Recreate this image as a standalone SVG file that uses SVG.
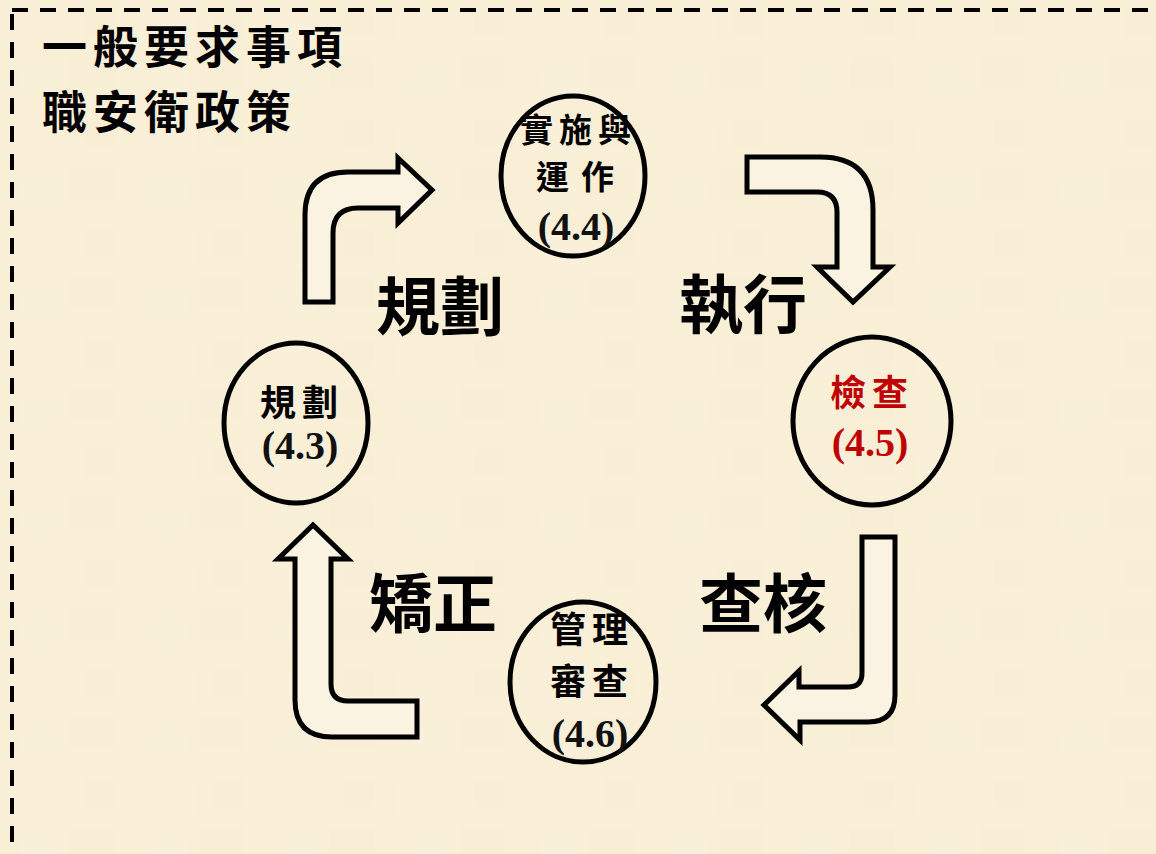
<svg xmlns="http://www.w3.org/2000/svg" width="1156" height="854" viewBox="0 0 1156 854">
<defs>
<style>
.cjk{font-family:"Noto Sans CJK TC","Noto Sans CJK SC",sans-serif;font-weight:bold;fill:#000}
.num{font-family:"Liberation Serif","Times New Roman",serif;font-weight:bold;font-size:40px;text-anchor:middle;fill:#111}
.node{fill:none;stroke:#000;stroke-width:5}
.arrow{fill:#FBF3E2;stroke:#000;stroke-width:5;stroke-linejoin:miter}
.red{fill:#C00000}
</style>
<pattern id="tex" width="130" height="110" patternUnits="userSpaceOnUse">
<rect width="130" height="110" fill="#F9EFD7"/>
<rect x="8" y="12" width="56" height="34" fill="#FAF2DE" opacity="0.45"/>
<rect x="70" y="58" width="44" height="30" fill="#F7ECD2" opacity="0.4"/>
<rect x="22" y="70" width="34" height="24" fill="#FAF2DD" opacity="0.4"/>
<rect x="84" y="10" width="30" height="26" fill="#F7EDD3" opacity="0.3"/>
</pattern>
</defs>
<rect width="1156" height="854" fill="url(#tex)"/>
<rect x="12" y="10" width="1170" height="870" fill="none" stroke="#000" stroke-width="4" stroke-dasharray="16 12"/>

<g id="title" class="cjk">
<text x="42" y="64" font-size="45" letter-spacing="6">一般要求事項</text>
<text x="42" y="129" font-size="45" letter-spacing="6">職安衛政策</text>
</g>

<g id="connectors">
<path id="arrow-plan-do" class="arrow" d="M 305 302 L 305 215 Q 305 172 348 172 L 398 172 L 398 158 L 432 190 L 398 223 L 398 208 L 358 208 Q 333 208 333 233 L 333 302 Z"/>
<path id="arrow-do-check" class="arrow" d="M 747 157 L 820 157 Q 873 157 873 210 L 873 267 L 890 267 L 853 302 L 817 267 L 837 267 L 837 212 Q 837 192 817 192 L 747 192 Z"/>
<path id="arrow-check-review" class="arrow" d="M 862 537 L 895 537 L 895 695 Q 895 722 868 722 L 800 722 L 800 740 L 764 705 L 799 671 L 799 687 L 848 687 Q 862 687 862 673 Z"/>
<path id="arrow-review-plan" class="arrow" d="M 417 737 L 417 701 L 348 701 Q 331 701 331 684 L 331 559 L 348 559 L 313 525 L 278 559 L 295 559 L 295 700 Q 295 737 332 737 Z"/>
<g id="connector-labels" class="cjk" font-size="64">
<text x="376" y="330">規劃</text>
<text x="679" y="328">執行</text>
<text x="369" y="627">矯正</text>
<text x="699" y="627">查核</text>
</g>
</g>

<g id="node-do">
<ellipse class="node" cx="573" cy="176" rx="72" ry="80"/>
<text class="cjk" x="520" y="142" font-size="33" letter-spacing="6">實施與</text>
<text class="cjk" x="536" y="189" font-size="33" letter-spacing="12">運作</text>
<text class="num" x="576" y="240">(4.4)</text>
</g>

<g id="node-plan">
<ellipse class="node" cx="296" cy="423" rx="72" ry="80"/>
<text class="cjk" x="260" y="416" font-size="36" letter-spacing="6">規劃</text>
<text class="num" x="300" y="459">(4.3)</text>
</g>

<g id="node-check">
<ellipse class="node" cx="872" cy="421" rx="79" ry="84"/>
<text class="cjk red" x="830" y="406" font-size="36" letter-spacing="6">檢查</text>
<text class="num red" x="870" y="456">(4.5)</text>
</g>

<g id="node-review">
<ellipse class="node" cx="583" cy="682" rx="73" ry="80"/>
<text class="cjk" x="550" y="643" font-size="36" letter-spacing="6">管理</text>
<text class="cjk" x="550" y="695" font-size="36" letter-spacing="6">審查</text>
<text class="num" x="590" y="747">(4.6)</text>
</g>
</svg>
